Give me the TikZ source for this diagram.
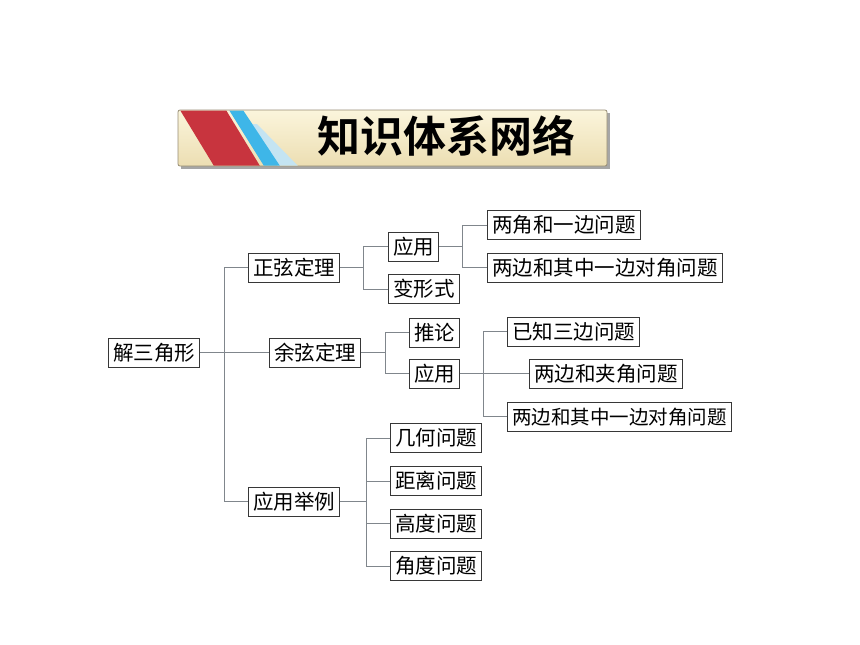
\documentclass[tikz,border=0pt]{standalone}
\usepackage{fontspec}
\newfontfamily\cjk[BoldFont={* Bold}]{Noto Sans CJK SC}
\definecolor{boxc}{RGB}{55,55,55}
\definecolor{linec}{RGB}{128,134,140}
\definecolor{creamtop}{RGB}{251,245,220}
\definecolor{creambot}{RGB}{236,222,178}
\definecolor{bannerline}{RGB}{150,140,115}
\definecolor{stripred}{RGB}{200,52,62}
\definecolor{stripblue}{RGB}{62,182,232}
\definecolor{striplight}{RGB}{196,228,242}
\tikzset{
  box/.style={draw=boxc, line width=1pt, fill=white, anchor=west,
    font=\cjk\fontsize{20.5}{24}\selectfont, inner xsep=4.5pt, inner ysep=0pt,
    minimum height=29pt, text height=18pt, text depth=2.5pt},
  narrowbox/.style={box, font=\cjk\fontsize{19.5}{24}\selectfont},
  conn/.style={draw=linec, line width=1pt},
  titletext/.style={font=\cjk\bfseries\fontsize{43}{50}\selectfont, inner sep=0pt,
    text height=37.8pt, text depth=5.2pt}
}
\begin{document}
\begin{tikzpicture}[x=1pt,y=-1pt]
\useasboundingbox (0,0) rectangle (860,645);
% banner
\fill[black!35] (181,113) rectangle (610,169);
\shade[top color=creamtop, bottom color=creambot, draw=bannerline, line width=0.8pt, rounded corners=2pt]
  (178,110) rectangle (607,166);
\begin{scope}
\clip[rounded corners=2pt] (178.5,110.5) rectangle (606.5,165.5);
\fill[striplight] (241,124) -- (257,124) -- (298,166) -- (278,166) -- cycle;
\fill[stripred] (180,110) -- (226,110) -- (260,166) -- (214,166) -- cycle;
\fill[stripblue] (229,110) -- (243,110) -- (280,166) -- (264,166) -- cycle;
\end{scope}
\node[titletext] (title) at (446.5,136.5) {知识体系网络};
% trunk coordinates
\coordinate (t0) at (224,0);
\coordinate (b1) at (363,0);
\coordinate (b2) at (462,0);
\coordinate (b3) at (385,0);
\coordinate (b4) at (483,0);
\coordinate (b5) at (366,0);
% nodes
\node[box] (root) at (108,352.5) {解三角形};
\node[box] (zx) at (248,267.5) {正弦定理};
\node[box] (yx) at (269,352.5) {余弦定理};
\node[box] (yy) at (248,501.5) {应用举例};
\node[box] (zxa) at (388,246.5) {应用};
\node[box] (zxb) at (388,289) {变形式};
\node[box] (zxa1) at (487,225) {两角和一边问题};
\node[box] (zxa2) at (487,267.5) {两边和其中一边对角问题};
\node[box] (tl) at (409,332.5) {推论};
\node[box] (yxa) at (409,373.5) {应用};
\node[box] (y1) at (507,331.5) {已知三边问题};
\node[box] (y2) at (529,373.5) {两边和夹角问题};
\node[narrowbox] (y3) at (507,416.5) {两边和其中一边对角问题};
\node[box] (j1) at (390,438) {几何问题};
\node[box] (j2) at (390,481) {距离问题};
\node[box] (j3) at (390,523.5) {高度问题};
\node[box] (j4) at (390,566) {角度问题};
% connectors
\draw[conn] (root.east) -- (yx.west);
\draw[conn] (zx.west) -- (zx.west -| t0) -- (yy.west -| t0) -- (yy.west);
\draw[conn] (zx.east) -- (zx.east -| b1);
\draw[conn] (zxa.west) -- (zxa.west -| b1) -- (zxb.west -| b1) -- (zxb.west);
\draw[conn] (zxa.east) -- (zxa.east -| b2);
\draw[conn] (zxa1.west) -- (zxa1.west -| b2) -- (zxa2.west -| b2) -- (zxa2.west);
\draw[conn] (yx.east) -- (yx.east -| b3);
\draw[conn] (tl.west) -- (tl.west -| b3) -- (yxa.west -| b3) -- (yxa.west);
\draw[conn] (yxa.east) -- (y2.west);
\draw[conn] (y1.west) -- (y1.west -| b4) -- (y3.west -| b4) -- (y3.west);
\draw[conn] (yy.east) -- (yy.east -| b5);
\draw[conn] (j1.west) -- (j1.west -| b5) -- (j4.west -| b5) -- (j4.west);
\draw[conn] (j2.west) -- (j2.west -| b5);
\draw[conn] (j3.west) -- (j3.west -| b5);
\end{tikzpicture}
\end{document}
